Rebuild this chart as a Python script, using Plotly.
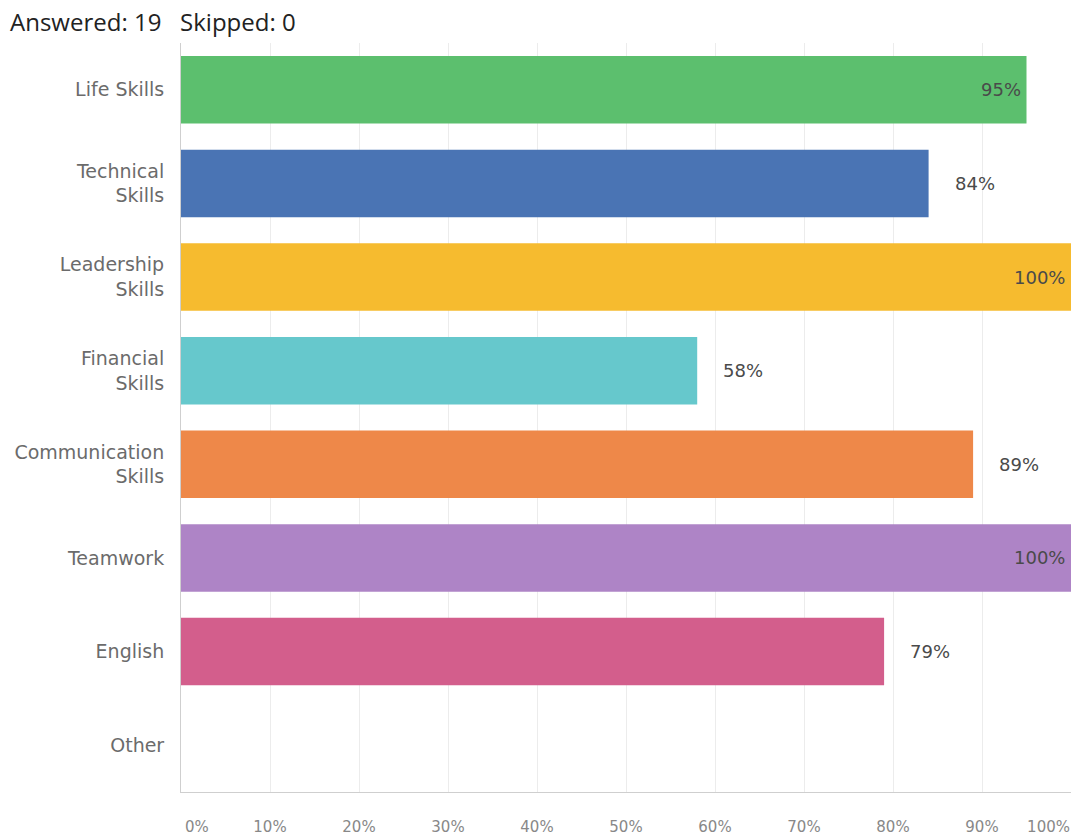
import plotly.graph_objects as go

# Survey results: share of respondents selecting each skill area
categories = ["Life Skills", "Technical<br>Skills", "Leadership<br>Skills", "Financial<br>Skills",
              "Communication<br>Skills", "Teamwork", "English", "Other"]
percent = [95, 84, 100, 58, 89, 100, 79, 0]
colors = ["#5cbf6e", "#4a74b4", "#f6bb2f", "#66c8cc", "#ee8849", "#ae84c6", "#d35e8c", "#cccccc"]
tick_vals = [0, 10, 20, 30, 40, 50, 60, 70, 80, 90, 100]
tick_text = [f"{v}%" for v in tick_vals]
header = "Answered: 19&nbsp;&nbsp;&nbsp;Skipped: 0"

fig = go.Figure(go.Bar(
    x=percent, y=categories, orientation="h",
    marker=dict(color=colors, line=dict(width=0)),
    width=0.72, hoverinfo="skip",
))
# empty traces so the two overlay axes (edge tick labels) get drawn
fig.add_trace(go.Scatter(x=[], y=[], xaxis="x2", yaxis="y", showlegend=False))
fig.add_trace(go.Scatter(x=[], y=[], xaxis="x3", yaxis="y", showlegend=False))

# value labels: inside the bar end for long bars, just past the end otherwise
for cat, val in zip(categories, percent):
    if val <= 0:
        continue
    inside = val >= 95
    fig.add_annotation(
        x=val, y=cat, text=f"{val}%", showarrow=False,
        xanchor="right" if inside else "left",
        xshift=-4 if inside else 24,
        font=dict(family="DejaVu Sans, sans-serif", size=18, color="#4a4a4a"),
    )

tick_font = dict(family="DejaVu Sans, sans-serif", size=15, color="#888")

fig.update_layout(
    width=1073, height=839,
    margin=dict(l=181, r=2, t=43, b=47, autoexpand=False),
    paper_bgcolor="white", plot_bgcolor="white",
    showlegend=False,
    font=dict(family="DejaVu Sans, sans-serif", size=15, color="#6b6b6b"),
    # inner ticks centred on their gridlines
    xaxis=dict(
        range=[0, 100], tickvals=tick_vals[1:-1], ticktext=tick_text[1:-1],
        showgrid=True, gridcolor="#ececec", gridwidth=1,
        showline=True, linecolor="#cfcfcf", linewidth=1,
        zeroline=False, ticks="", ticklabelstandoff=21, automargin=False,
        tickfont=tick_font,
    ),
    # first tick label starts just right of the axis origin
    xaxis2=dict(
        overlaying="x", anchor="y", side="bottom", matches="x",
        tickvals=tick_vals[:1], ticktext=tick_text[:1], ticklabelposition="outside right",
        ticklabelshift=4,
        showgrid=False, showline=False, zeroline=False, ticks="",
        ticklabelstandoff=24, automargin=False, tickfont=tick_font,
    ),
    # last tick label ends at the right edge
    xaxis3=dict(
        overlaying="x", anchor="y", side="bottom", matches="x",
        tickvals=tick_vals[-1:], ticktext=tick_text[-1:], ticklabelposition="outside left",
        ticklabelshift=-1,
        showgrid=False, showline=False, zeroline=False, ticks="",
        ticklabelstandoff=24, automargin=False, tickfont=tick_font,
    ),
    yaxis=dict(
        autorange="reversed", showgrid=False,
        showline=True, linecolor="#cfcfcf", linewidth=1,
        ticks="", ticklabelstandoff=12, automargin=False,
        tickfont=dict(family="DejaVu Sans, sans-serif", size=19, color="#6b6b6b"),
    ),
)
fig.add_annotation(
    text=header, xref="paper", yref="paper", x=-173 / 890, y=1.0, yshift=22,
    xanchor="left", yanchor="middle", showarrow=False,
    font=dict(family="Open Sans, sans-serif", size=24, color="#222"),
)

fig.write_html("out.html")
